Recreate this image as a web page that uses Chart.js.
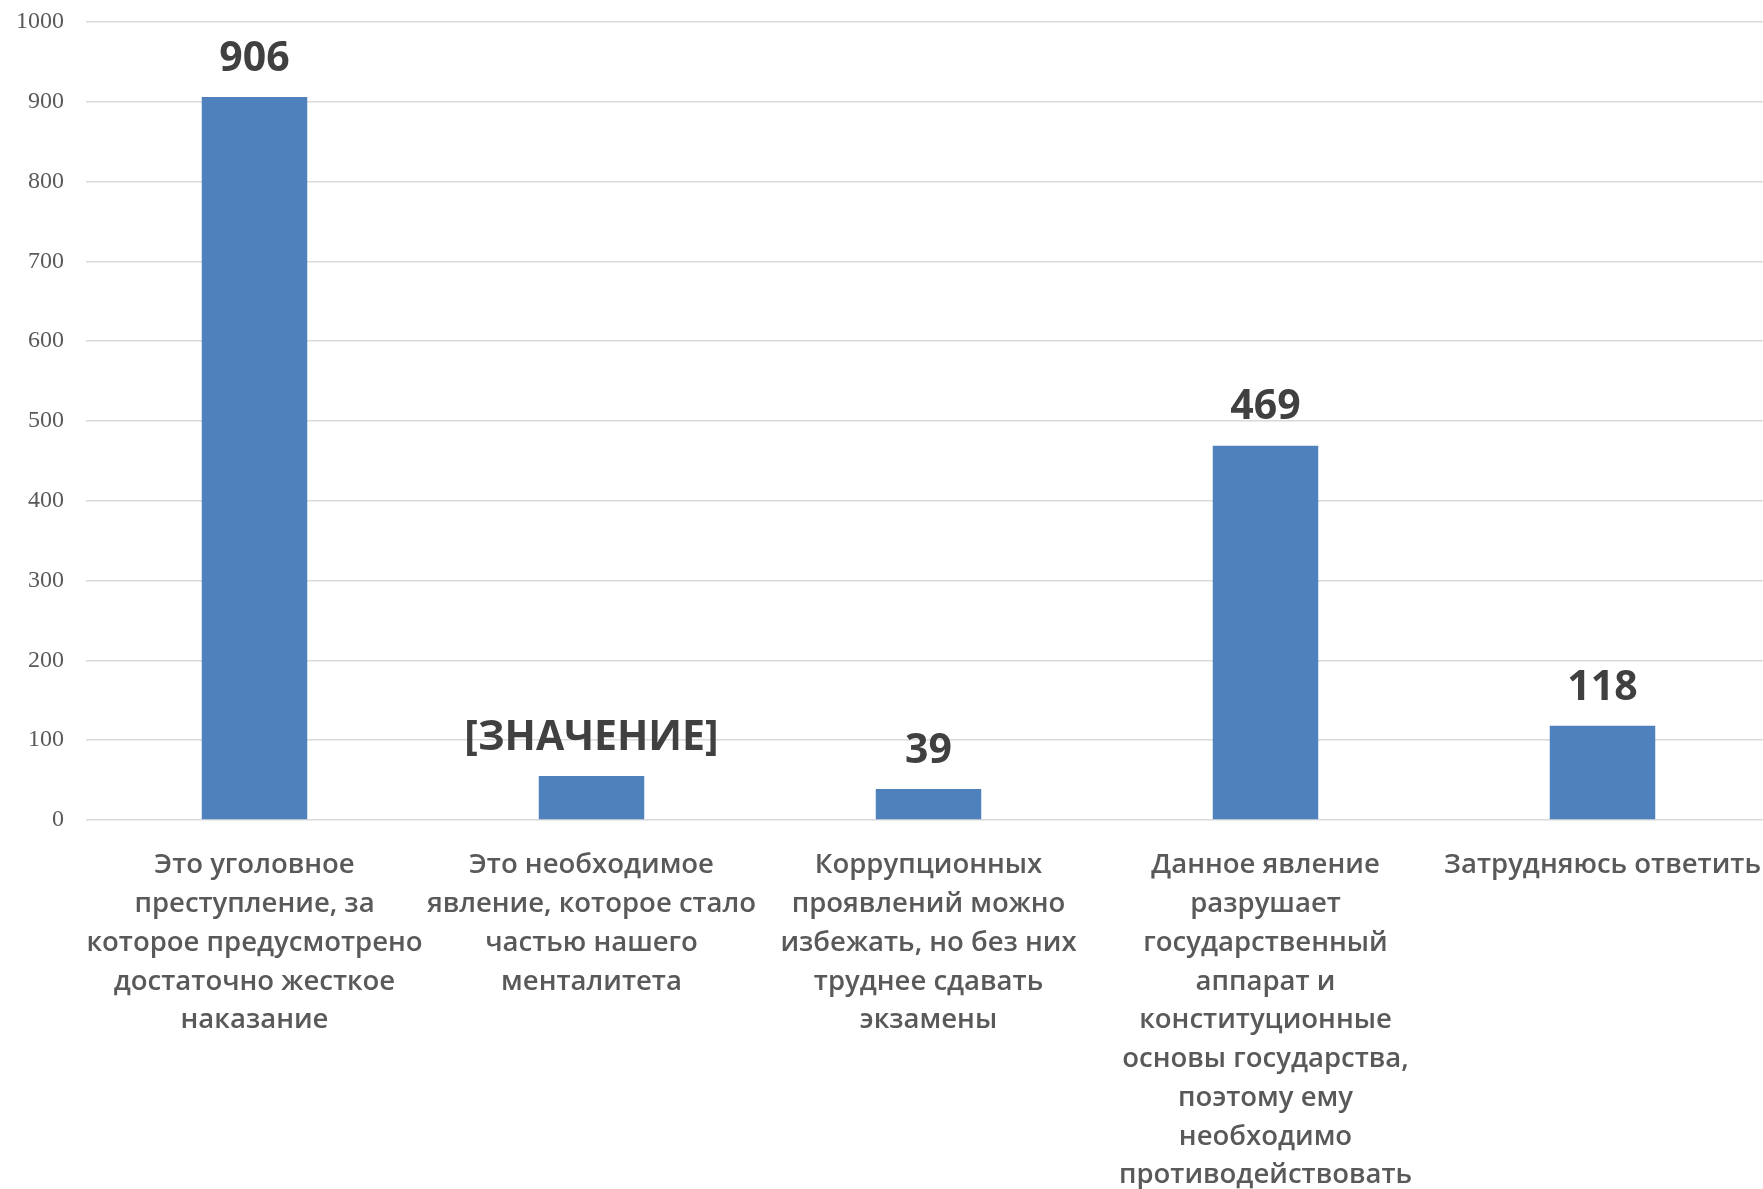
<!DOCTYPE html>
<html>
<head>
<meta charset="utf-8">
<script src="https://cdn.jsdelivr.net/npm/chart.js@4"></script>
<style>
    html, body { margin: 0; padding: 0; background: #fff; overflow: hidden; }
    #wrap { width: 1771px; height: 1189px; }
</style>
</head>
<body>
<div id="wrap"><canvas id="chart"></canvas></div>
<script>
const categories = [
    ['Это уголовное', 'преступление, за', 'которое предусмотрено', 'достаточно жесткое', 'наказание'],
    ['Это необходимое', 'явление, которое стало', 'частью нашего', 'менталитета'],
    ['Коррупционных', 'проявлений можно', 'избежать, но без них', 'труднее сдавать', 'экзамены'],
    ['Данное явление', 'разрушает', 'государственный', 'аппарат и', 'конституционные', 'основы государства,', 'поэтому ему', 'необходимо', 'противодействовать'],
    ['Затрудняюсь ответить']
];
const values = [906, 55, 39, 469, 118];
const valueLabels = ['906', '[ЗНАЧЕНИЕ]', '39', '469', '118'];
const yMax = 1000;
const yStep = 100;

const labelFont = '"Open Sans", Roboto, sans-serif';

// подписи значений над столбцами
const valueLabelPlugin = {
    id: 'valueLabels',
    afterDatasetsDraw(chart) {
        const ctx = chart.ctx;
        const meta = chart.getDatasetMeta(0);
        ctx.save();
        ctx.fillStyle = '#404040';
        ctx.font = 'bold 41px ' + labelFont;
        ctx.textAlign = 'center';
        ctx.textBaseline = 'middle';
        meta.data.forEach((bar, i) => {
            ctx.fillText(valueLabels[i], bar.x, bar.y - 38);
        });
        ctx.restore();
    }
};

function renderChart() {
    const ctx = document.getElementById('chart').getContext('2d');

    new Chart(ctx, {
        type: 'bar',
        data: {
            labels: categories,
            datasets: [{
                data: values,
                backgroundColor: '#4F81BD',
                borderWidth: 0,
                categoryPercentage: 1,
                barPercentage: 0.313
            }]
        },
        options: {
            responsive: true,
            maintainAspectRatio: false,
            animation: false,
            layout: { padding: 0 },
            plugins: {
                legend: { display: false },
                tooltip: { enabled: false }
            },
            scales: {
                x: {
                    grid: { display: false },
                    border: { display: false },
                    ticks: {
                        color: '#595959',
                        font: { family: labelFont, size: 27.5, weight: '600', lineHeight: 1.41 },
                        padding: 18,
                        maxRotation: 0,
                        autoSkip: false
                    },
                    afterFit: (scale) => {
                        scale.height = 369;
                        scale.paddingLeft = 0;
                        scale.paddingRight = 0;
                    }
                },
                y: {
                    min: 0,
                    max: yMax,
                    grid: { color: '#d9d9d9', lineWidth: 1.5, drawTicks: false },
                    border: { display: false },
                    ticks: {
                        stepSize: yStep,
                        color: '#595959',
                        font: { family: '"Liberation Serif", serif', size: 24 },
                        padding: 22,
                        callback: (v) => String(v)
                    },
                    afterFit: (scale) => {
                        scale.width = 86;
                        scale.paddingTop = 22;
                        scale.paddingBottom = 0;
                    }
                }
            }
        },
        plugins: [valueLabelPlugin]
    });
}

document.addEventListener('DOMContentLoaded', renderChart);
</script>
</body>
</html>
